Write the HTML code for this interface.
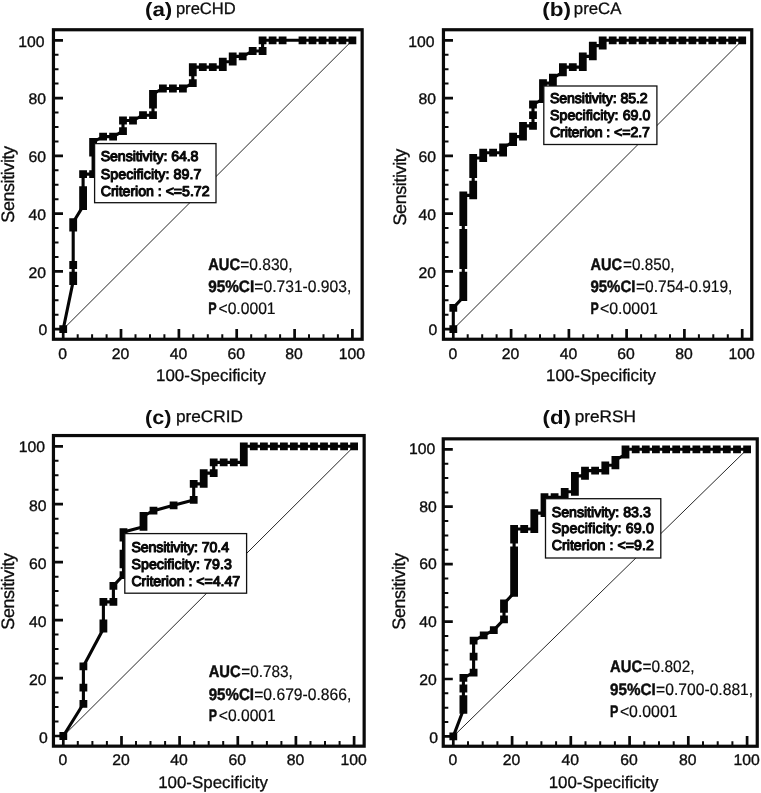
<!DOCTYPE html>
<html lang="en"><head><meta charset="utf-8"><title>ROC curves</title>
<style>html,body{margin:0;padding:0;background:#fff}body{width:761px;height:793px;overflow:hidden}svg{display:block}text{font-family:"Liberation Sans",sans-serif;fill:#0d0d0d;text-rendering:geometricPrecision}.tk{font-size:15.3px;stroke:#0d0d0d;stroke-width:.35px}.tt{font-size:16.6px;stroke:#0d0d0d;stroke-width:.3px}.tb{font-size:19.5px;font-weight:bold}.ax{font-size:16.9px;stroke:#0d0d0d;stroke-width:.3px}.yl{font-size:18px;stroke:#0d0d0d;stroke-width:.3px}.bx{font-size:14.2px;stroke:#0a0a0a;stroke-width:1.1px;stroke-linejoin:round}.au{font-size:16.6px;stroke:#0d0d0d;stroke-width:.2px}.ab{font-size:16.6px;font-weight:bold;stroke:#0d0d0d;stroke-width:.45px}</style></head><body>
<svg width="761" height="793" viewBox="0 0 761 793">
<rect width="761" height="793" fill="#fff"/>
<g id="panel-a">
<line x1="63.2" y1="329.2" x2="352.4" y2="40.3" stroke="#262626" stroke-width="1"/>
<rect x="53.45" y="29.75" width="308.70" height="309.50" fill="none" stroke="#0a0a0a" stroke-width="3.2"/>
<path d="M53.7 329.2h9.3M63.2 339.0v-10M53.7 271.4h9.3M121.0 339.0v-10M53.7 213.6h9.3M178.9 339.0v-10M53.7 155.9h9.3M236.7 339.0v-10M53.7 98.1h9.3M294.6 339.0v-10M53.7 40.3h9.3M352.4 339.0v-10" stroke="#0a0a0a" stroke-width="2.7" fill="none"/>
<path d="M53.7 314.8h4.8M77.7 339.0v-4.8M53.7 300.3h4.8M92.1 339.0v-4.8M53.7 285.9h4.8M106.6 339.0v-4.8M53.7 257.0h4.8M135.5 339.0v-4.8M53.7 242.5h4.8M150.0 339.0v-4.8M53.7 228.1h4.8M164.4 339.0v-4.8M53.7 199.2h4.8M193.3 339.0v-4.8M53.7 184.8h4.8M207.8 339.0v-4.8M53.7 170.3h4.8M222.3 339.0v-4.8M53.7 141.4h4.8M251.2 339.0v-4.8M53.7 127.0h4.8M265.6 339.0v-4.8M53.7 112.5h4.8M280.1 339.0v-4.8M53.7 83.6h4.8M309.0 339.0v-4.8M53.7 69.2h4.8M323.5 339.0v-4.8M53.7 54.7h4.8M337.9 339.0v-4.8" stroke="#0a0a0a" stroke-width="2" fill="none"/>
<polyline points="63.2,329.2 73.2,281.1 73.2,275.7 73.2,265.0 73.2,227.6 73.2,222.2 83.1,206.1 83.1,200.8 83.1,195.4 83.1,190.1 83.1,174.1 93.1,174.1 93.1,152.7 93.1,147.3 93.1,142.0 103.1,136.6 113.1,136.6 123.0,131.2 123.0,120.5 133.0,120.5 143.0,115.2 153.0,115.2 153.0,104.5 153.0,99.2 153.0,93.8 162.9,88.5 172.9,88.5 182.9,88.5 192.8,83.1 192.8,72.4 192.8,67.1 202.8,67.1 212.8,67.1 222.8,67.1 222.8,61.7 232.7,61.7 232.7,56.4 242.7,56.4 252.7,51.0 262.6,51.0 262.6,40.3 272.6,40.3 282.6,40.3 302.5,40.3 312.5,40.3 322.5,40.3 332.5,40.3 342.4,40.3 352.4,40.3" fill="none" stroke="#050505" stroke-width="3.1" stroke-linejoin="round"/>
<path d="M59.3 325.3h7.8v7.8h-7.8zM69.3 277.2h7.8v7.8h-7.8zM69.3 271.8h7.8v7.8h-7.8zM69.3 261.1h7.8v7.8h-7.8zM69.3 223.7h7.8v7.8h-7.8zM69.3 218.3h7.8v7.8h-7.8zM79.2 202.2h7.8v7.8h-7.8zM79.2 196.9h7.8v7.8h-7.8zM79.2 191.5h7.8v7.8h-7.8zM79.2 186.2h7.8v7.8h-7.8zM79.2 170.2h7.8v7.8h-7.8zM89.2 170.2h7.8v7.8h-7.8zM89.2 148.8h7.8v7.8h-7.8zM89.2 143.4h7.8v7.8h-7.8zM89.2 138.1h7.8v7.8h-7.8zM99.2 132.7h7.8v7.8h-7.8zM109.2 132.7h7.8v7.8h-7.8zM119.1 127.3h7.8v7.8h-7.8zM119.1 116.6h7.8v7.8h-7.8zM129.1 116.6h7.8v7.8h-7.8zM139.1 111.3h7.8v7.8h-7.8zM149.1 111.3h7.8v7.8h-7.8zM149.1 100.6h7.8v7.8h-7.8zM149.1 95.2h7.8v7.8h-7.8zM149.1 89.9h7.8v7.8h-7.8zM159.0 84.6h7.8v7.8h-7.8zM169.0 84.6h7.8v7.8h-7.8zM179.0 84.6h7.8v7.8h-7.8zM188.9 79.2h7.8v7.8h-7.8zM188.9 68.5h7.8v7.8h-7.8zM188.9 63.2h7.8v7.8h-7.8zM198.9 63.2h7.8v7.8h-7.8zM208.9 63.2h7.8v7.8h-7.8zM218.9 63.2h7.8v7.8h-7.8zM218.9 57.8h7.8v7.8h-7.8zM228.8 57.8h7.8v7.8h-7.8zM228.8 52.5h7.8v7.8h-7.8zM238.8 52.5h7.8v7.8h-7.8zM248.8 47.1h7.8v7.8h-7.8zM258.7 47.1h7.8v7.8h-7.8zM258.7 36.4h7.8v7.8h-7.8zM268.7 36.4h7.8v7.8h-7.8zM278.7 36.4h7.8v7.8h-7.8zM298.6 36.4h7.8v7.8h-7.8zM308.6 36.4h7.8v7.8h-7.8zM318.6 36.4h7.8v7.8h-7.8zM328.6 36.4h7.8v7.8h-7.8zM338.5 36.4h7.8v7.8h-7.8zM348.5 36.4h7.8v7.8h-7.8z" fill="#050505"/>
<text class="tk" transform="translate(47.3 335.3) scale(1.03 1)" text-anchor="end">0</text>
<text class="tk" transform="translate(62.7 358.5) scale(1.03 1)" text-anchor="middle">0</text>
<text class="tk" transform="translate(46.1 277.6) scale(1.03 1)" text-anchor="end">20</text>
<text class="tk" transform="translate(120.5 358.5) scale(1.03 1)" text-anchor="middle">20</text>
<text class="tk" transform="translate(46.1 219.8) scale(1.03 1)" text-anchor="end">40</text>
<text class="tk" transform="translate(178.4 358.5) scale(1.03 1)" text-anchor="middle">40</text>
<text class="tk" transform="translate(46.1 162.0) scale(1.03 1)" text-anchor="end">60</text>
<text class="tk" transform="translate(236.2 358.5) scale(1.03 1)" text-anchor="middle">60</text>
<text class="tk" transform="translate(46.1 104.2) scale(1.03 1)" text-anchor="end">80</text>
<text class="tk" transform="translate(294.1 358.5) scale(1.03 1)" text-anchor="middle">80</text>
<text class="tk" transform="translate(44.6 46.5) scale(1.03 1)" text-anchor="end">100</text>
<text class="tk" transform="translate(351.9 358.5) scale(1.03 1)" text-anchor="middle">100</text>
<text class="ax" x="211.0" y="381.0" text-anchor="middle">100-Specificity</text>
<text class="yl" transform="translate(14.2 184.3) rotate(-90)" textLength="76.8" lengthAdjust="spacing" text-anchor="middle">Sensitivity</text>
<text class="tb" x="145.0" y="15.8" textLength="27.3" lengthAdjust="spacingAndGlyphs">(a)</text>
<text class="tt" x="175.9" y="13.8" textLength="59.9" lengthAdjust="spacingAndGlyphs">preCHD</text>
<rect x="94.6" y="143.6" width="121.4" height="59.1" fill="#fff" stroke="#111" stroke-width="1.3"/>
<text class="bx" x="100.7" y="161.3" textLength="97.8" lengthAdjust="spacing">Sensitivity: 64.8</text>
<text class="bx" x="100.7" y="178.5" textLength="100.6" lengthAdjust="spacing">Specificity: 89.7</text>
<text class="bx" x="100.7" y="195.7" textLength="108.9" lengthAdjust="spacing">Criterion : &lt;=5.72</text>
<text class="ab" x="208.2" y="270.4" textLength="31.9" lengthAdjust="spacingAndGlyphs">AUC</text>
<text class="au" x="240.2" y="270.4" textLength="52.3" lengthAdjust="spacingAndGlyphs">=0.830,</text>
<text class="ab" x="208.2" y="291.8" textLength="46.0" lengthAdjust="spacingAndGlyphs">95%CI</text>
<text class="au" x="254.3" y="291.8" textLength="97.0" lengthAdjust="spacingAndGlyphs">=0.731-0.903,</text>
<text class="ab" x="208.2" y="313.7" textLength="8.4" lengthAdjust="spacingAndGlyphs">P</text>
<text class="au" x="218.5" y="313.7" textLength="57.1" lengthAdjust="spacingAndGlyphs">&lt;0.0001</text>
</g>
<g id="panel-b">
<line x1="453.3" y1="329.2" x2="742.2" y2="40.3" stroke="#262626" stroke-width="1"/>
<rect x="443.45" y="29.75" width="308.30" height="309.50" fill="none" stroke="#0a0a0a" stroke-width="3.2"/>
<path d="M443.7 329.2h9.3M453.3 339.0v-10M443.7 271.4h9.3M511.1 339.0v-10M443.7 213.6h9.3M568.9 339.0v-10M443.7 155.9h9.3M626.6 339.0v-10M443.7 98.1h9.3M684.4 339.0v-10M443.7 40.3h9.3M742.2 339.0v-10" stroke="#0a0a0a" stroke-width="2.7" fill="none"/>
<path d="M443.7 314.8h4.8M467.7 339.0v-4.8M443.7 300.3h4.8M482.2 339.0v-4.8M443.7 285.9h4.8M496.6 339.0v-4.8M443.7 257.0h4.8M525.5 339.0v-4.8M443.7 242.5h4.8M540.0 339.0v-4.8M443.7 228.1h4.8M554.4 339.0v-4.8M443.7 199.2h4.8M583.3 339.0v-4.8M443.7 184.8h4.8M597.8 339.0v-4.8M443.7 170.3h4.8M612.2 339.0v-4.8M443.7 141.4h4.8M641.1 339.0v-4.8M443.7 127.0h4.8M655.5 339.0v-4.8M443.7 112.5h4.8M670.0 339.0v-4.8M443.7 83.6h4.8M698.9 339.0v-4.8M443.7 69.2h4.8M713.3 339.0v-4.8M443.7 54.7h4.8M727.8 339.0v-4.8" stroke="#0a0a0a" stroke-width="2" fill="none"/>
<polyline points="453.3,329.2 453.3,307.8 463.3,297.1 463.3,291.8 463.3,286.4 463.3,281.1 463.3,275.7 463.3,265.0 463.3,259.6 463.3,254.3 463.3,248.9 463.3,243.6 463.3,238.2 463.3,232.9 463.3,222.2 463.3,216.9 463.3,211.5 463.3,206.1 463.3,200.8 463.3,195.4 473.2,195.4 473.2,190.1 473.2,184.8 473.2,174.1 473.2,168.7 473.2,163.3 473.2,158.0 483.2,158.0 483.2,152.7 493.1,152.7 503.1,152.7 503.1,147.3 513.1,142.0 513.1,136.6 523.0,136.6 523.0,131.2 523.0,125.9 533.0,125.9 533.0,115.2 533.0,104.5 543.0,99.2 543.0,93.8 543.0,88.5 543.0,83.1 552.9,83.1 552.9,77.8 562.9,72.4 562.9,67.1 572.8,67.1 582.8,67.1 582.8,61.7 582.8,56.4 592.8,56.4 592.8,51.0 592.8,45.6 602.7,45.6 602.7,40.3 612.7,40.3 622.7,40.3 632.6,40.3 642.6,40.3 652.5,40.3 662.5,40.3 672.5,40.3 682.4,40.3 692.4,40.3 702.4,40.3 712.3,40.3 722.3,40.3 732.2,40.3 742.2,40.3" fill="none" stroke="#050505" stroke-width="3.1" stroke-linejoin="round"/>
<path d="M449.4 325.3h7.8v7.8h-7.8zM449.4 303.9h7.8v7.8h-7.8zM459.4 293.2h7.8v7.8h-7.8zM459.4 287.9h7.8v7.8h-7.8zM459.4 282.5h7.8v7.8h-7.8zM459.4 277.2h7.8v7.8h-7.8zM459.4 271.8h7.8v7.8h-7.8zM459.4 261.1h7.8v7.8h-7.8zM459.4 255.7h7.8v7.8h-7.8zM459.4 250.4h7.8v7.8h-7.8zM459.4 245.0h7.8v7.8h-7.8zM459.4 239.7h7.8v7.8h-7.8zM459.4 234.3h7.8v7.8h-7.8zM459.4 229.0h7.8v7.8h-7.8zM459.4 218.3h7.8v7.8h-7.8zM459.4 213.0h7.8v7.8h-7.8zM459.4 207.6h7.8v7.8h-7.8zM459.4 202.2h7.8v7.8h-7.8zM459.4 196.9h7.8v7.8h-7.8zM459.4 191.5h7.8v7.8h-7.8zM469.3 191.5h7.8v7.8h-7.8zM469.3 186.2h7.8v7.8h-7.8zM469.3 180.8h7.8v7.8h-7.8zM469.3 170.2h7.8v7.8h-7.8zM469.3 164.8h7.8v7.8h-7.8zM469.3 159.4h7.8v7.8h-7.8zM469.3 154.1h7.8v7.8h-7.8zM479.3 154.1h7.8v7.8h-7.8zM479.3 148.8h7.8v7.8h-7.8zM489.2 148.8h7.8v7.8h-7.8zM499.2 148.8h7.8v7.8h-7.8zM499.2 143.4h7.8v7.8h-7.8zM509.2 138.1h7.8v7.8h-7.8zM509.2 132.7h7.8v7.8h-7.8zM519.1 132.7h7.8v7.8h-7.8zM519.1 127.3h7.8v7.8h-7.8zM519.1 122.0h7.8v7.8h-7.8zM529.1 122.0h7.8v7.8h-7.8zM529.1 111.3h7.8v7.8h-7.8zM529.1 100.6h7.8v7.8h-7.8zM539.1 95.2h7.8v7.8h-7.8zM539.1 89.9h7.8v7.8h-7.8zM539.1 84.6h7.8v7.8h-7.8zM539.1 79.2h7.8v7.8h-7.8zM549.0 79.2h7.8v7.8h-7.8zM549.0 73.8h7.8v7.8h-7.8zM559.0 68.5h7.8v7.8h-7.8zM559.0 63.2h7.8v7.8h-7.8zM568.9 63.2h7.8v7.8h-7.8zM578.9 63.2h7.8v7.8h-7.8zM578.9 57.8h7.8v7.8h-7.8zM578.9 52.5h7.8v7.8h-7.8zM588.9 52.5h7.8v7.8h-7.8zM588.9 47.1h7.8v7.8h-7.8zM588.9 41.7h7.8v7.8h-7.8zM598.8 41.7h7.8v7.8h-7.8zM598.8 36.4h7.8v7.8h-7.8zM608.8 36.4h7.8v7.8h-7.8zM618.8 36.4h7.8v7.8h-7.8zM628.7 36.4h7.8v7.8h-7.8zM638.7 36.4h7.8v7.8h-7.8zM648.6 36.4h7.8v7.8h-7.8zM658.6 36.4h7.8v7.8h-7.8zM668.6 36.4h7.8v7.8h-7.8zM678.5 36.4h7.8v7.8h-7.8zM688.5 36.4h7.8v7.8h-7.8zM698.5 36.4h7.8v7.8h-7.8zM708.4 36.4h7.8v7.8h-7.8zM718.4 36.4h7.8v7.8h-7.8zM728.3 36.4h7.8v7.8h-7.8zM738.3 36.4h7.8v7.8h-7.8z" fill="#050505"/>
<text class="tk" transform="translate(437.3 335.3) scale(1.03 1)" text-anchor="end">0</text>
<text class="tk" transform="translate(452.8 358.5) scale(1.03 1)" text-anchor="middle">0</text>
<text class="tk" transform="translate(436.1 277.6) scale(1.03 1)" text-anchor="end">20</text>
<text class="tk" transform="translate(510.6 358.5) scale(1.03 1)" text-anchor="middle">20</text>
<text class="tk" transform="translate(436.1 219.8) scale(1.03 1)" text-anchor="end">40</text>
<text class="tk" transform="translate(568.4 358.5) scale(1.03 1)" text-anchor="middle">40</text>
<text class="tk" transform="translate(436.1 162.0) scale(1.03 1)" text-anchor="end">60</text>
<text class="tk" transform="translate(626.1 358.5) scale(1.03 1)" text-anchor="middle">60</text>
<text class="tk" transform="translate(436.1 104.2) scale(1.03 1)" text-anchor="end">80</text>
<text class="tk" transform="translate(683.9 358.5) scale(1.03 1)" text-anchor="middle">80</text>
<text class="tk" transform="translate(434.6 46.5) scale(1.03 1)" text-anchor="end">100</text>
<text class="tk" transform="translate(741.7 358.5) scale(1.03 1)" text-anchor="middle">100</text>
<text class="ax" x="601.0" y="381.3" text-anchor="middle">100-Specificity</text>
<text class="yl" transform="translate(405.6 187.1) rotate(-90)" textLength="76.8" lengthAdjust="spacing" text-anchor="middle">Sensitivity</text>
<text class="tb" x="542.2" y="15.8" textLength="28.8" lengthAdjust="spacingAndGlyphs">(b)</text>
<text class="tt" x="573.8" y="13.8" textLength="47.6" lengthAdjust="spacingAndGlyphs">preCA</text>
<rect x="543.8" y="86.0" width="113.1" height="58.5" fill="#fff" stroke="#111" stroke-width="1.3"/>
<text class="bx" x="549.9" y="103.0" textLength="97.8" lengthAdjust="spacing">Sensitivity: 85.2</text>
<text class="bx" x="549.9" y="120.1" textLength="100.6" lengthAdjust="spacing">Specificity: 69.0</text>
<text class="bx" x="549.9" y="137.2" textLength="100.0" lengthAdjust="spacing">Criterion : &lt;=2.7</text>
<text class="ab" x="590.4" y="269.8" textLength="31.6" lengthAdjust="spacingAndGlyphs">AUC</text>
<text class="au" x="623.0" y="269.8" textLength="51.4" lengthAdjust="spacingAndGlyphs">=0.850,</text>
<text class="ab" x="590.4" y="291.8" textLength="45.1" lengthAdjust="spacingAndGlyphs">95%CI</text>
<text class="au" x="636.0" y="291.8" textLength="96.4" lengthAdjust="spacingAndGlyphs">=0.754-0.919,</text>
<text class="ab" x="590.4" y="314.3" textLength="8.3" lengthAdjust="spacingAndGlyphs">P</text>
<text class="au" x="600.0" y="314.3" textLength="57.9" lengthAdjust="spacingAndGlyphs">&lt;0.0001</text>
</g>
<g id="panel-c">
<line x1="63.3" y1="736.0" x2="354.1" y2="446.3" stroke="#262626" stroke-width="1"/>
<rect x="53.45" y="435.55" width="310.70" height="310.60" fill="none" stroke="#0a0a0a" stroke-width="3.2"/>
<path d="M53.7 736.0h9.3M63.3 745.9v-10M53.7 678.1h9.3M121.5 745.9v-10M53.7 620.1h9.3M179.6 745.9v-10M53.7 562.2h9.3M237.8 745.9v-10M53.7 504.2h9.3M295.9 745.9v-10M53.7 446.3h9.3M354.1 745.9v-10" stroke="#0a0a0a" stroke-width="2.7" fill="none"/>
<path d="M53.7 721.5h4.8M77.8 745.9v-4.8M53.7 707.0h4.8M92.4 745.9v-4.8M53.7 692.5h4.8M106.9 745.9v-4.8M53.7 663.6h4.8M136.0 745.9v-4.8M53.7 649.1h4.8M150.5 745.9v-4.8M53.7 634.6h4.8M165.1 745.9v-4.8M53.7 605.6h4.8M194.2 745.9v-4.8M53.7 591.1h4.8M208.7 745.9v-4.8M53.7 576.7h4.8M223.2 745.9v-4.8M53.7 547.7h4.8M252.3 745.9v-4.8M53.7 533.2h4.8M266.9 745.9v-4.8M53.7 518.7h4.8M281.4 745.9v-4.8M53.7 489.8h4.8M310.5 745.9v-4.8M53.7 475.3h4.8M325.0 745.9v-4.8M53.7 460.8h4.8M339.6 745.9v-4.8" stroke="#0a0a0a" stroke-width="2" fill="none"/>
<polyline points="63.3,736.0 83.4,703.8 83.4,687.7 83.4,666.3 103.4,628.7 103.4,623.3 103.4,601.9 113.4,601.9 113.4,585.8 123.5,575.1 123.5,564.3 123.5,559.0 123.5,553.6 123.5,537.5 123.5,532.1 143.5,526.8 143.5,521.4 143.5,516.0 153.5,510.7 173.6,505.3 193.7,499.9 193.7,483.9 203.7,483.9 203.7,478.5 203.7,473.1 213.7,473.1 213.7,462.4 223.7,462.4 233.8,462.4 243.8,462.4 243.8,457.0 243.8,451.7 243.8,446.3 253.8,446.3 263.9,446.3 273.9,446.3 283.9,446.3 293.9,446.3 304.0,446.3 314.0,446.3 324.0,446.3 334.0,446.3 344.1,446.3 354.1,446.3" fill="none" stroke="#050505" stroke-width="3.1" stroke-linejoin="round"/>
<path d="M59.4 732.1h7.8v7.8h-7.8zM79.5 699.9h7.8v7.8h-7.8zM79.5 683.8h7.8v7.8h-7.8zM79.5 662.4h7.8v7.8h-7.8zM99.5 624.8h7.8v7.8h-7.8zM99.5 619.4h7.8v7.8h-7.8zM99.5 598.0h7.8v7.8h-7.8zM109.5 598.0h7.8v7.8h-7.8zM109.5 581.9h7.8v7.8h-7.8zM119.6 571.2h7.8v7.8h-7.8zM119.6 560.4h7.8v7.8h-7.8zM119.6 555.1h7.8v7.8h-7.8zM119.6 549.7h7.8v7.8h-7.8zM119.6 533.6h7.8v7.8h-7.8zM119.6 528.2h7.8v7.8h-7.8zM139.6 522.9h7.8v7.8h-7.8zM139.6 517.5h7.8v7.8h-7.8zM139.6 512.1h7.8v7.8h-7.8zM149.6 506.8h7.8v7.8h-7.8zM169.7 501.4h7.8v7.8h-7.8zM189.8 496.0h7.8v7.8h-7.8zM189.8 480.0h7.8v7.8h-7.8zM199.8 480.0h7.8v7.8h-7.8zM199.8 474.6h7.8v7.8h-7.8zM199.8 469.2h7.8v7.8h-7.8zM209.8 469.2h7.8v7.8h-7.8zM209.8 458.5h7.8v7.8h-7.8zM219.8 458.5h7.8v7.8h-7.8zM229.9 458.5h7.8v7.8h-7.8zM239.9 458.5h7.8v7.8h-7.8zM239.9 453.1h7.8v7.8h-7.8zM239.9 447.8h7.8v7.8h-7.8zM239.9 442.4h7.8v7.8h-7.8zM249.9 442.4h7.8v7.8h-7.8zM260.0 442.4h7.8v7.8h-7.8zM270.0 442.4h7.8v7.8h-7.8zM280.0 442.4h7.8v7.8h-7.8zM290.0 442.4h7.8v7.8h-7.8zM300.1 442.4h7.8v7.8h-7.8zM310.1 442.4h7.8v7.8h-7.8zM320.1 442.4h7.8v7.8h-7.8zM330.1 442.4h7.8v7.8h-7.8zM340.2 442.4h7.8v7.8h-7.8zM350.2 442.4h7.8v7.8h-7.8z" fill="#050505"/>
<text class="tk" transform="translate(47.8 743.0) scale(1.03 1)" text-anchor="end">0</text>
<text class="tk" transform="translate(62.8 765.4) scale(1.03 1)" text-anchor="middle">0</text>
<text class="tk" transform="translate(46.6 684.9) scale(1.03 1)" text-anchor="end">20</text>
<text class="tk" transform="translate(121.0 765.4) scale(1.03 1)" text-anchor="middle">20</text>
<text class="tk" transform="translate(46.6 626.8) scale(1.03 1)" text-anchor="end">40</text>
<text class="tk" transform="translate(179.1 765.4) scale(1.03 1)" text-anchor="middle">40</text>
<text class="tk" transform="translate(46.6 568.7) scale(1.03 1)" text-anchor="end">60</text>
<text class="tk" transform="translate(237.3 765.4) scale(1.03 1)" text-anchor="middle">60</text>
<text class="tk" transform="translate(46.6 510.6) scale(1.03 1)" text-anchor="end">80</text>
<text class="tk" transform="translate(295.4 765.4) scale(1.03 1)" text-anchor="middle">80</text>
<text class="tk" transform="translate(45.1 452.4) scale(1.03 1)" text-anchor="end">100</text>
<text class="tk" transform="translate(353.6 765.4) scale(1.03 1)" text-anchor="middle">100</text>
<text class="ax" x="213.1" y="787.7" text-anchor="middle">100-Specificity</text>
<text class="yl" transform="translate(14.2 591.3) rotate(-90)" textLength="76.8" lengthAdjust="spacing" text-anchor="middle">Sensitivity</text>
<text class="tb" x="145.1" y="424.3" textLength="26.4" lengthAdjust="spacingAndGlyphs">(c)</text>
<text class="tt" x="175.9" y="422.3" textLength="67.0" lengthAdjust="spacingAndGlyphs">preCRID</text>
<rect x="124.8" y="533.6" width="121.8" height="59.6" fill="#fff" stroke="#111" stroke-width="1.3"/>
<text class="bx" x="131.4" y="551.8" textLength="97.7" lengthAdjust="spacing">Sensitivity: 70.4</text>
<text class="bx" x="131.4" y="568.9" textLength="100.5" lengthAdjust="spacing">Specificity: 79.3</text>
<text class="bx" x="131.4" y="586.1" textLength="108.8" lengthAdjust="spacing">Criterion : &lt;=4.47</text>
<text class="ab" x="208.7" y="677.2" textLength="32.0" lengthAdjust="spacingAndGlyphs">AUC</text>
<text class="au" x="241.2" y="677.2" textLength="51.5" lengthAdjust="spacingAndGlyphs">=0.783,</text>
<text class="ab" x="208.7" y="699.7" textLength="45.3" lengthAdjust="spacingAndGlyphs">95%CI</text>
<text class="au" x="254.2" y="699.7" textLength="97.2" lengthAdjust="spacingAndGlyphs">=0.679-0.866,</text>
<text class="ab" x="208.7" y="721.4" textLength="8.3" lengthAdjust="spacingAndGlyphs">P</text>
<text class="au" x="218.8" y="721.4" textLength="56.9" lengthAdjust="spacingAndGlyphs">&lt;0.0001</text>
</g>
<g id="panel-d">
<line x1="453.3" y1="736.4" x2="747.1" y2="449.3" stroke="#262626" stroke-width="1"/>
<rect x="443.25" y="438.85" width="314.00" height="307.40" fill="none" stroke="#0a0a0a" stroke-width="3.2"/>
<path d="M443.5 736.4h9.3M453.3 746.0v-10M443.5 679.0h9.3M512.1 746.0v-10M443.5 621.6h9.3M570.8 746.0v-10M443.5 564.1h9.3M629.6 746.0v-10M443.5 506.7h9.3M688.3 746.0v-10M443.5 449.3h9.3M747.1 746.0v-10" stroke="#0a0a0a" stroke-width="2.7" fill="none"/>
<path d="M443.5 722.0h4.8M468.0 746.0v-4.8M443.5 707.7h4.8M482.7 746.0v-4.8M443.5 693.3h4.8M497.4 746.0v-4.8M443.5 664.6h4.8M526.8 746.0v-4.8M443.5 650.3h4.8M541.4 746.0v-4.8M443.5 635.9h4.8M556.1 746.0v-4.8M443.5 607.2h4.8M585.5 746.0v-4.8M443.5 592.9h4.8M600.2 746.0v-4.8M443.5 578.5h4.8M614.9 746.0v-4.8M443.5 549.8h4.8M644.3 746.0v-4.8M443.5 535.4h4.8M659.0 746.0v-4.8M443.5 521.1h4.8M673.7 746.0v-4.8M443.5 492.4h4.8M703.0 746.0v-4.8M443.5 478.0h4.8M717.7 746.0v-4.8M443.5 463.7h4.8M732.4 746.0v-4.8" stroke="#0a0a0a" stroke-width="2" fill="none"/>
<polyline points="453.3,736.4 463.4,709.8 463.4,704.5 463.4,699.2 463.4,688.5 463.4,677.9 473.6,672.6 473.6,656.6 473.6,640.7 483.7,635.4 493.8,630.1 504.0,619.4 504.0,608.8 504.0,603.5 514.1,592.9 514.1,587.5 514.1,582.2 514.1,576.9 514.1,571.6 514.1,566.3 514.1,561.0 514.1,555.6 514.1,550.3 514.1,539.7 514.1,534.4 514.1,529.0 524.2,529.0 534.3,529.0 534.3,523.7 534.3,518.4 534.3,513.1 544.5,513.1 544.5,507.8 544.5,502.5 544.5,497.2 554.6,497.2 564.7,497.2 564.7,491.8 574.9,491.8 574.9,486.5 574.9,481.2 574.9,475.9 585.0,475.9 585.0,470.6 595.1,470.6 605.3,470.6 605.3,465.2 615.4,465.2 615.4,459.9 625.5,454.6 625.5,449.3 635.7,449.3 645.8,449.3 655.9,449.3 666.1,449.3 676.2,449.3 686.3,449.3 696.4,449.3 706.6,449.3 716.7,449.3 726.8,449.3 737.0,449.3 747.1,449.3" fill="none" stroke="#050505" stroke-width="3.1" stroke-linejoin="round"/>
<path d="M449.4 732.5h7.8v7.8h-7.8zM459.5 705.9h7.8v7.8h-7.8zM459.5 700.6h7.8v7.8h-7.8zM459.5 695.3h7.8v7.8h-7.8zM459.5 684.6h7.8v7.8h-7.8zM459.5 674.0h7.8v7.8h-7.8zM469.7 668.7h7.8v7.8h-7.8zM469.7 652.8h7.8v7.8h-7.8zM469.7 636.8h7.8v7.8h-7.8zM479.8 631.5h7.8v7.8h-7.8zM489.9 626.2h7.8v7.8h-7.8zM500.1 615.5h7.8v7.8h-7.8zM500.1 604.9h7.8v7.8h-7.8zM500.1 599.6h7.8v7.8h-7.8zM510.2 589.0h7.8v7.8h-7.8zM510.2 583.6h7.8v7.8h-7.8zM510.2 578.3h7.8v7.8h-7.8zM510.2 573.0h7.8v7.8h-7.8zM510.2 567.7h7.8v7.8h-7.8zM510.2 562.4h7.8v7.8h-7.8zM510.2 557.1h7.8v7.8h-7.8zM510.2 551.7h7.8v7.8h-7.8zM510.2 546.4h7.8v7.8h-7.8zM510.2 535.8h7.8v7.8h-7.8zM510.2 530.5h7.8v7.8h-7.8zM510.2 525.1h7.8v7.8h-7.8zM520.3 525.1h7.8v7.8h-7.8zM530.4 525.1h7.8v7.8h-7.8zM530.4 519.8h7.8v7.8h-7.8zM530.4 514.5h7.8v7.8h-7.8zM530.4 509.2h7.8v7.8h-7.8zM540.6 509.2h7.8v7.8h-7.8zM540.6 503.9h7.8v7.8h-7.8zM540.6 498.6h7.8v7.8h-7.8zM540.6 493.3h7.8v7.8h-7.8zM550.7 493.3h7.8v7.8h-7.8zM560.8 493.3h7.8v7.8h-7.8zM560.8 487.9h7.8v7.8h-7.8zM571.0 487.9h7.8v7.8h-7.8zM571.0 482.6h7.8v7.8h-7.8zM571.0 477.3h7.8v7.8h-7.8zM571.0 472.0h7.8v7.8h-7.8zM581.1 472.0h7.8v7.8h-7.8zM581.1 466.7h7.8v7.8h-7.8zM591.2 466.7h7.8v7.8h-7.8zM601.4 466.7h7.8v7.8h-7.8zM601.4 461.4h7.8v7.8h-7.8zM611.5 461.4h7.8v7.8h-7.8zM611.5 456.0h7.8v7.8h-7.8zM621.6 450.7h7.8v7.8h-7.8zM621.6 445.4h7.8v7.8h-7.8zM631.8 445.4h7.8v7.8h-7.8zM641.9 445.4h7.8v7.8h-7.8zM652.0 445.4h7.8v7.8h-7.8zM662.2 445.4h7.8v7.8h-7.8zM672.3 445.4h7.8v7.8h-7.8zM682.4 445.4h7.8v7.8h-7.8zM692.5 445.4h7.8v7.8h-7.8zM702.7 445.4h7.8v7.8h-7.8zM712.8 445.4h7.8v7.8h-7.8zM722.9 445.4h7.8v7.8h-7.8zM733.1 445.4h7.8v7.8h-7.8zM743.2 445.4h7.8v7.8h-7.8z" fill="#050505"/>
<text class="tk" transform="translate(438.0 742.8) scale(1.03 1)" text-anchor="end">0</text>
<text class="tk" transform="translate(452.8 764.6) scale(1.03 1)" text-anchor="middle">0</text>
<text class="tk" transform="translate(436.8 685.0) scale(1.03 1)" text-anchor="end">20</text>
<text class="tk" transform="translate(511.6 764.6) scale(1.03 1)" text-anchor="middle">20</text>
<text class="tk" transform="translate(436.8 627.2) scale(1.03 1)" text-anchor="end">40</text>
<text class="tk" transform="translate(570.3 764.6) scale(1.03 1)" text-anchor="middle">40</text>
<text class="tk" transform="translate(436.8 569.4) scale(1.03 1)" text-anchor="end">60</text>
<text class="tk" transform="translate(629.1 764.6) scale(1.03 1)" text-anchor="middle">60</text>
<text class="tk" transform="translate(436.8 511.6) scale(1.03 1)" text-anchor="end">80</text>
<text class="tk" transform="translate(687.8 764.6) scale(1.03 1)" text-anchor="middle">80</text>
<text class="tk" transform="translate(435.3 453.8) scale(1.03 1)" text-anchor="end">100</text>
<text class="tk" transform="translate(746.6 764.6) scale(1.03 1)" text-anchor="middle">100</text>
<text class="ax" x="603.6" y="787.7" text-anchor="middle">100-Specificity</text>
<text class="yl" transform="translate(405.4 591.3) rotate(-90)" textLength="76.8" lengthAdjust="spacing" text-anchor="middle">Sensitivity</text>
<text class="tb" x="542.5" y="424.3" textLength="28.4" lengthAdjust="spacingAndGlyphs">(d)</text>
<text class="tt" x="574.7" y="422.3" textLength="61.3" lengthAdjust="spacingAndGlyphs">preRSH</text>
<rect x="545.5" y="498.7" width="115.3" height="59.3" fill="#fff" stroke="#111" stroke-width="1.3"/>
<text class="bx" x="551.7" y="516.6" textLength="99.1" lengthAdjust="spacing">Sensitivity: 83.3</text>
<text class="bx" x="551.7" y="533.4" textLength="102.1" lengthAdjust="spacing">Specificity: 69.0</text>
<text class="bx" x="551.7" y="550.4" textLength="102.1" lengthAdjust="spacing">Criterion : &lt;=9.2</text>
<text class="ab" x="610.1" y="672.4" textLength="32.0" lengthAdjust="spacingAndGlyphs">AUC</text>
<text class="au" x="642.6" y="672.4" textLength="51.9" lengthAdjust="spacingAndGlyphs">=0.802,</text>
<text class="ab" x="610.1" y="694.9" textLength="45.7" lengthAdjust="spacingAndGlyphs">95%CI</text>
<text class="au" x="656.1" y="694.9" textLength="97.1" lengthAdjust="spacingAndGlyphs">=0.700-0.881,</text>
<text class="ab" x="610.1" y="716.9" textLength="8.4" lengthAdjust="spacingAndGlyphs">P</text>
<text class="au" x="619.9" y="716.9" textLength="57.6" lengthAdjust="spacingAndGlyphs">&lt;0.0001</text>
</g>
</svg></body></html>
